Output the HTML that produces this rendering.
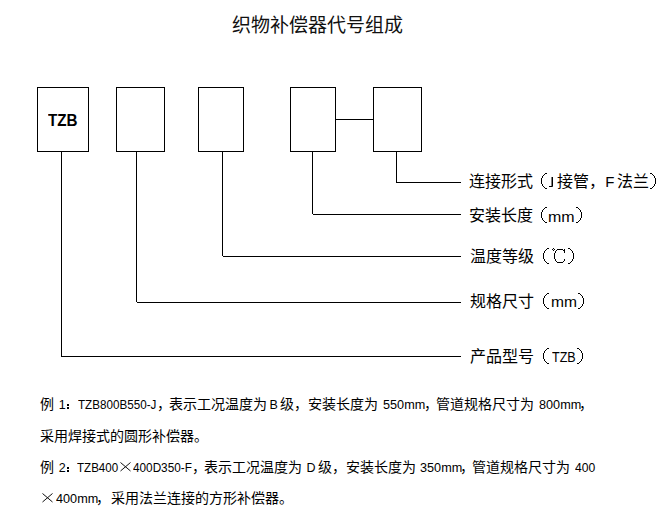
<!DOCTYPE html>
<html lang="zh-CN">
<head>
<meta charset="utf-8">
<style>
html,body{margin:0;padding:0;background:#fff;}
body{width:670px;height:524px;position:relative;overflow:hidden;font-family:"Liberation Sans",sans-serif;color:#000;}
.b{position:absolute;box-sizing:border-box;border:1px solid #000;top:87px;height:65px;}
.h,.v{position:absolute;background:#000;}
.h{height:1px;}
.v{width:1px;}
.r{position:absolute;white-space:pre;line-height:20px;transform-origin:0 0;}
.title{position:absolute;white-space:pre;line-height:20px;font-size:19px;left:232px;top:16px;color:#111;}
.tzb{position:absolute;left:48px;top:111px;transform:scaleX(0.95);font-size:16px;font-weight:bold;line-height:20px;transform-origin:0 0;}
</style>
</head>
<body>
<div class="title">织物补偿器代号组成</div>

<div class="b" style="left:37px;width:52px;"></div>
<div class="tzb">TZB</div>
<div class="b" style="left:116px;width:49px;"></div>
<div class="b" style="left:198px;width:46px;"></div>
<div class="b" style="left:290px;width:46px;"></div>
<div class="b" style="left:373px;width:49px;"></div>
<div class="h" style="left:336px;top:119px;width:37px;"></div>

<div class="v" style="left:61px;top:152px;height:205px;"></div>
<div class="h" style="left:61px;top:356px;width:400px;"></div>
<div class="v" style="left:136px;top:152px;height:150px;"></div>
<div class="h" style="left:137px;top:302px;width:324px;"></div>
<div class="v" style="left:222px;top:152px;height:104px;"></div>
<div class="h" style="left:223px;top:256px;width:238px;"></div>
<div class="v" style="left:312px;top:152px;height:62px;"></div>
<div class="h" style="left:313px;top:214px;width:148px;"></div>
<div class="v" style="left:396px;top:152px;height:31px;"></div>
<div class="h" style="left:396px;top:182px;width:65px;"></div>

<span class="r" style="left:468.5px;top:172px;font-size:16px">连接形式</span>
<svg class="r" style="left:541px;top:173px" width="6" height="16" shape-rendering="crispEdges"><path d="M4 0h1v1h-1zM5 0h1v1h-1zM3 1h1v1h-1zM2 2h1v1h-1zM1 3h1v1h-1zM1 4h1v1h-1zM0 5h1v1h-1zM0 6h1v1h-1zM0 7h1v1h-1zM0 8h1v1h-1zM0 9h1v1h-1zM0 10h1v1h-1zM1 11h1v1h-1zM1 12h1v1h-1zM2 13h1v1h-1zM3 14h1v1h-1zM4 15h1v1h-1zM5 15h1v1h-1z"/></svg>
<svg class="r" style="left:548px;top:176px" width="6" height="12"><rect x="3.5" y="1" width="1.5" height="9.5"/><rect x="1" y="10" width="3.5" height="1"/></svg>
<span class="r" style="left:557px;top:172px;font-size:16px">接管，</span>
<span class="r" style="left:605.25px;top:172px;font-size:15px;transform:scaleX(1.000)">F</span>
<span class="r" style="left:616.5px;top:172px;font-size:16px">法兰</span>
<svg class="r" style="left:650px;top:173px" width="6" height="16" shape-rendering="crispEdges"><path d="M1 0h1v1h-1zM0 0h1v1h-1zM2 1h1v1h-1zM3 2h1v1h-1zM4 3h1v1h-1zM4 4h1v1h-1zM5 5h1v1h-1zM5 6h1v1h-1zM5 7h1v1h-1zM5 8h1v1h-1zM5 9h1v1h-1zM5 10h1v1h-1zM4 11h1v1h-1zM4 12h1v1h-1zM3 13h1v1h-1zM2 14h1v1h-1zM1 15h1v1h-1zM0 15h1v1h-1z"/></svg>
<span class="r" style="left:468.5px;top:206px;font-size:16px">安装长度</span>
<svg class="r" style="left:541px;top:207px" width="6" height="16" shape-rendering="crispEdges"><path d="M4 0h1v1h-1zM5 0h1v1h-1zM3 1h1v1h-1zM2 2h1v1h-1zM1 3h1v1h-1zM1 4h1v1h-1zM0 5h1v1h-1zM0 6h1v1h-1zM0 7h1v1h-1zM0 8h1v1h-1zM0 9h1v1h-1zM0 10h1v1h-1zM1 11h1v1h-1zM1 12h1v1h-1zM2 13h1v1h-1zM3 14h1v1h-1zM4 15h1v1h-1zM5 15h1v1h-1z"/></svg>
<span class="r" style="left:548.24px;top:207px;font-size:15px;transform:scaleX(1.064)">mm</span>
<svg class="r" style="left:576px;top:207px" width="6" height="16" shape-rendering="crispEdges"><path d="M1 0h1v1h-1zM0 0h1v1h-1zM2 1h1v1h-1zM3 2h1v1h-1zM4 3h1v1h-1zM4 4h1v1h-1zM5 5h1v1h-1zM5 6h1v1h-1zM5 7h1v1h-1zM5 8h1v1h-1zM5 9h1v1h-1zM5 10h1v1h-1zM4 11h1v1h-1zM4 12h1v1h-1zM3 13h1v1h-1zM2 14h1v1h-1zM1 15h1v1h-1zM0 15h1v1h-1z"/></svg>
<span class="r" style="left:470px;top:247px;font-size:16px">温度等级</span>
<svg class="r" style="left:543px;top:248px" width="6" height="16" shape-rendering="crispEdges"><path d="M4 0h1v1h-1zM5 0h1v1h-1zM3 1h1v1h-1zM2 2h1v1h-1zM1 3h1v1h-1zM1 4h1v1h-1zM0 5h1v1h-1zM0 6h1v1h-1zM0 7h1v1h-1zM0 8h1v1h-1zM0 9h1v1h-1zM0 10h1v1h-1zM1 11h1v1h-1zM1 12h1v1h-1zM2 13h1v1h-1zM3 14h1v1h-1zM4 15h1v1h-1zM5 15h1v1h-1z"/></svg>
<svg class="r" style="left:552px;top:248px" width="13" height="15" shape-rendering="crispEdges"><path d="M1 0h1v1h-1zM0 1h1v1h-1zM2 1h1v1h-1zM1 2h1v1h-1zM5 1h1v1h-1zM6 1h1v1h-1zM7 1h1v1h-1zM8 1h1v1h-1zM9 1h1v1h-1zM10 1h1v1h-1zM4 2h1v1h-1zM3 3h1v1h-1zM3 4h1v1h-1zM2 5h1v1h-1zM2 6h1v1h-1zM2 7h1v1h-1zM2 8h1v1h-1zM2 9h1v1h-1zM2 10h1v1h-1zM3 11h1v1h-1zM3 12h1v1h-1zM4 13h1v1h-1zM5 14h1v1h-1zM6 14h1v1h-1zM7 14h1v1h-1zM8 14h1v1h-1zM9 14h1v1h-1zM10 14h1v1h-1zM11 2h1v1h-1zM12 1h1v1h-1zM12 2h1v1h-1zM12 3h1v1h-1zM12 4h1v1h-1zM12 11h1v1h-1zM12 12h1v1h-1zM11 13h1v1h-1z"/></svg>
<svg class="r" style="left:568px;top:248px" width="6" height="16" shape-rendering="crispEdges"><path d="M1 0h1v1h-1zM0 0h1v1h-1zM2 1h1v1h-1zM3 2h1v1h-1zM4 3h1v1h-1zM4 4h1v1h-1zM5 5h1v1h-1zM5 6h1v1h-1zM5 7h1v1h-1zM5 8h1v1h-1zM5 9h1v1h-1zM5 10h1v1h-1zM4 11h1v1h-1zM4 12h1v1h-1zM3 13h1v1h-1zM2 14h1v1h-1zM1 15h1v1h-1zM0 15h1v1h-1z"/></svg>
<span class="r" style="left:469.5px;top:292px;font-size:16px">规格尺寸</span>
<svg class="r" style="left:543px;top:293px" width="6" height="16" shape-rendering="crispEdges"><path d="M4 0h1v1h-1zM5 0h1v1h-1zM3 1h1v1h-1zM2 2h1v1h-1zM1 3h1v1h-1zM1 4h1v1h-1zM0 5h1v1h-1zM0 6h1v1h-1zM0 7h1v1h-1zM0 8h1v1h-1zM0 9h1v1h-1zM0 10h1v1h-1zM1 11h1v1h-1zM1 12h1v1h-1zM2 13h1v1h-1zM3 14h1v1h-1zM4 15h1v1h-1zM5 15h1v1h-1z"/></svg>
<span class="r" style="left:550.56px;top:292px;font-size:15px;transform:scaleX(1.039)">mm</span>
<svg class="r" style="left:578px;top:293px" width="6" height="16" shape-rendering="crispEdges"><path d="M1 0h1v1h-1zM0 0h1v1h-1zM2 1h1v1h-1zM3 2h1v1h-1zM4 3h1v1h-1zM4 4h1v1h-1zM5 5h1v1h-1zM5 6h1v1h-1zM5 7h1v1h-1zM5 8h1v1h-1zM5 9h1v1h-1zM5 10h1v1h-1zM4 11h1v1h-1zM4 12h1v1h-1zM3 13h1v1h-1zM2 14h1v1h-1zM1 15h1v1h-1zM0 15h1v1h-1z"/></svg>
<span class="r" style="left:469.5px;top:347px;font-size:16px">产品型号</span>
<svg class="r" style="left:543px;top:348px" width="6" height="16" shape-rendering="crispEdges"><path d="M4 0h1v1h-1zM5 0h1v1h-1zM3 1h1v1h-1zM2 2h1v1h-1zM1 3h1v1h-1zM1 4h1v1h-1zM0 5h1v1h-1zM0 6h1v1h-1zM0 7h1v1h-1zM0 8h1v1h-1zM0 9h1v1h-1zM0 10h1v1h-1zM1 11h1v1h-1zM1 12h1v1h-1zM2 13h1v1h-1zM3 14h1v1h-1zM4 15h1v1h-1zM5 15h1v1h-1z"/></svg>
<span class="r" style="left:551.6px;top:347px;font-size:14px;transform:scaleX(0.896)">TZB</span>
<svg class="r" style="left:577px;top:348px" width="6" height="16" shape-rendering="crispEdges"><path d="M1 0h1v1h-1zM0 0h1v1h-1zM2 1h1v1h-1zM3 2h1v1h-1zM4 3h1v1h-1zM4 4h1v1h-1zM5 5h1v1h-1zM5 6h1v1h-1zM5 7h1v1h-1zM5 8h1v1h-1zM5 9h1v1h-1zM5 10h1v1h-1zM4 11h1v1h-1zM4 12h1v1h-1zM3 13h1v1h-1zM2 14h1v1h-1zM1 15h1v1h-1zM0 15h1v1h-1z"/></svg>
<span class="r" style="left:39.5px;top:394px;font-size:14px">例</span>
<span class="r" style="left:58.8px;top:395px;font-size:12.5px;transform:scaleX(1.000)">1</span>
<svg class="r" style="left:67px;top:404px" width="2" height="5" shape-rendering="crispEdges"><rect x="0" y="0" width="2" height="2"/><rect x="0" y="3" width="2" height="2"/></svg>
<span class="r" style="left:78.4px;top:395px;font-size:12.5px;transform:scaleX(0.933)">TZB800B550-J</span>
<span class="r" style="left:156.5px;top:394px;font-size:14px">，</span>
<span class="r" style="left:168.5px;top:394px;font-size:14px">表示工况温度为</span>
<span class="r" style="left:269.4px;top:395px;font-size:12.5px;transform:scaleX(1.000)">B</span>
<span class="r" style="left:280px;top:394px;font-size:14px">级，安装长度为</span>
<span class="r" style="left:382.5px;top:395px;font-size:12.5px;transform:scaleX(1.013)">550mm</span>
<span class="r" style="left:423.5px;top:394px;font-size:14px">，</span>
<span class="r" style="left:436px;top:394px;font-size:14px">管道规格尺寸为</span>
<span class="r" style="left:538.5px;top:395px;font-size:12.5px;transform:scaleX(1.013)">800mm</span>
<span class="r" style="left:579px;top:394px;font-size:14px">，</span>
<span class="r" style="left:39.75px;top:426px;font-size:14px">采用焊接式的圆形补偿器。</span>
<span class="r" style="left:39.5px;top:457px;font-size:14px">例</span>
<span class="r" style="left:58.8px;top:458px;font-size:12.5px;transform:scaleX(1.000)">2</span>
<svg class="r" style="left:67px;top:467px" width="2" height="5" shape-rendering="crispEdges"><rect x="0" y="0" width="2" height="2"/><rect x="0" y="3" width="2" height="2"/></svg>
<span class="r" style="left:77.2px;top:458px;font-size:12.5px;transform:scaleX(0.926)">TZB400</span>
<svg class="r" style="left:120px;top:462px" width="11" height="9.5" viewBox="0 0 11 9.5"><path d="M0.5 0.5L10.5 9M10.5 0.5L0.5 9" stroke="#111" stroke-width="1" fill="none"/></svg>
<span class="r" style="left:133.3px;top:458px;font-size:12.5px;transform:scaleX(0.941)">400D350-F</span>
<span class="r" style="left:191.8px;top:457px;font-size:14px">，</span>
<span class="r" style="left:204px;top:457px;font-size:14px">表示工况温度为</span>
<span class="r" style="left:306.45px;top:458px;font-size:12.5px;transform:scaleX(1.000)">D</span>
<span class="r" style="left:317.5px;top:457px;font-size:14px">级，安装长度为</span>
<span class="r" style="left:419.7px;top:458px;font-size:12.5px;transform:scaleX(1.013)">350mm</span>
<span class="r" style="left:460.2px;top:457px;font-size:14px">，</span>
<span class="r" style="left:472px;top:457px;font-size:14px">管道规格尺寸为</span>
<span class="r" style="left:575.2px;top:458px;font-size:12.5px;transform:scaleX(0.971)">400</span>
<svg class="r" style="left:42px;top:493px" width="11" height="9.5" viewBox="0 0 11 9.5"><path d="M0.5 0.5L10.5 9M10.5 0.5L0.5 9" stroke="#111" stroke-width="1" fill="none"/></svg>
<span class="r" style="left:55.7px;top:489px;font-size:12.5px;transform:scaleX(1.013)">400mm</span>
<span class="r" style="left:96.2px;top:488px;font-size:14px">，</span>
<span class="r" style="left:111px;top:488px;font-size:14px">采用法兰连接的方形补偿器。</span>
</body>
</html>
